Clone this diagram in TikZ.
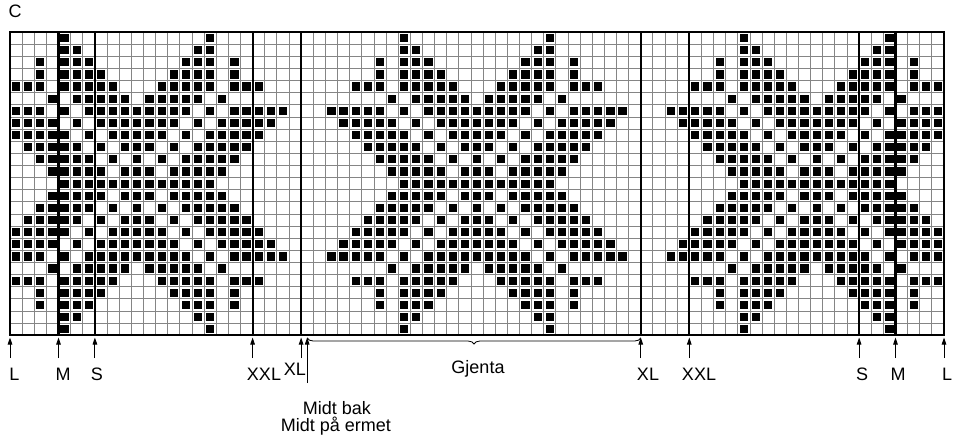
\documentclass[tikz,border=0pt]{standalone}
\usepackage{fontspec}
\setmainfont{Liberation Sans}
\usetikzlibrary{arrows.meta,decorations.pathreplacing}
\def\cw{12.13}
\def\sq{8.2}
\begin{document}
\begin{tikzpicture}[x=1pt,y=-1pt,
  gridline/.style={draw=black!48, line width=0.8pt},
  sizeline/.style={line width=2.2pt},
  stitch/.style={fill=black},
  marker/.style={-{Triangle[length=7pt,width=4.5pt]}, line width=0.9pt},
  lbl/.style={font=\fontsize{18}{20}\selectfont, inner sep=0pt, anchor=base}]
\useasboundingbox (0,0) rectangle (962,441);
\fill[white] (0,0) rectangle (962,441);

% chart grid: 77 stitches x 25 rounds
\foreach \i in {0,...,77} \draw[gridline] ({10+\i*\cw},32) -- ({10+\i*\cw},{32+25*\cw});
\foreach \j in {0,...,25} \draw[gridline] (10,{32+\j*\cw}) -- ({10+77*\cw},{32+\j*\cw});

% pattern stitches: one half-motif (offsets 0..14 from the axis, rounds 0..12),
% mirrored about the axis, repeated every 28 stitches and mirrored top/bottom
\foreach \r/\lst in {0/{8},1/{8,9},2/{6,8,9,10},3/{6,8,9,10,11},4/{4,5,6,8,9,10,11,12},
  5/{7,9,10,11,12,13},6/{2,3,4,5,6,8,10,11,12,13,14},7/{3,4,5,6,7,9,11,12,13,14},
  8/{4,5,6,7,8,10,12,13,14},9/{5,6,7,8,9,11,13,14},10/{6,7,8,9,10,12,14},
  11/{7,8,9,10,11,13,14},12/{8,9,10,11,12,13,14}}{
  \foreach \d in \lst {
    \foreach \k in {-1,0,1,2} {
      \foreach \s in {1,-1} {
        \pgfmathtruncatemacro\cc{24+\s*\d+28*\k}
        \ifnum\cc>-1\relax\ifnum\cc<77\relax
          \foreach \rr in {\r,24-\r}
            \fill[stitch] ({10+(\cc+0.5)*\cw-\sq/2},{32+(\rr+0.5)*\cw-\sq/2}) rectangle ++(\sq,\sq);
        \fi\fi
      }
    }
  }
}

% size lines and frame
\foreach \b in {4,7,20,24,52,56,70,73}
  \draw[sizeline] ({10+\b*\cw},32) -- ({10+\b*\cw},{32+25*\cw});
\draw[sizeline] (10,32) rectangle ({10+77*\cw},{32+25*\cw});

\node[lbl] (title) at (15,18) {C};

% size markers
\foreach \n/\b in {L/0,M/4,S/7,XXL/20,XLa/24,XLb/52,XXLb/56,Sb/70,Mb/73,Lb/77}{
  \coordinate (t\n) at ({10+\b*\cw},337.5);
  \coordinate (f\n) at ({10+\b*\cw},358);
  \draw[marker] (f\n) -- (t\n);
}
\node[lbl] (lL) at (14.5,380) {L};
\node[lbl] (lM) at (63,380) {M};
\node[lbl] (lS) at (97,380) {S};
\node[lbl] (lXXL) at (264,380) {XXL};
\node[lbl] (lXLa) at (295,375) {XL};
\node[lbl] (lXLb) at (648,380) {XL};
\node[lbl] (lXXLb) at (699,380) {XXL};
\node[lbl] (lSb) at (862,380) {S};
\node[lbl] (lMb) at (898,380) {M};
\node[lbl] (lLb) at (947,380) {L};

% centre back marker
\coordinate (tMid) at ({10+24.5*\cw},337.5);
\coordinate (fMid) at ({10+24.5*\cw},383);
\draw[marker] (fMid) -- (tMid);
\node[lbl] (mid1) at (337,414) {Midt bak};
\node[lbl] (mid2) at (336,431) {Midt på ermet};

% repeat brace
\coordinate (gA) at ({10+24.5*\cw},338);
\coordinate (gB) at ({10+52*\cw},338);
\draw[line width=0.8pt, decorate, decoration={brace, mirror, amplitude=6pt}] (gA) -- (gB);
\node[lbl] (rep) at (478,373) {Gjenta};
\end{tikzpicture}
\end{document}
